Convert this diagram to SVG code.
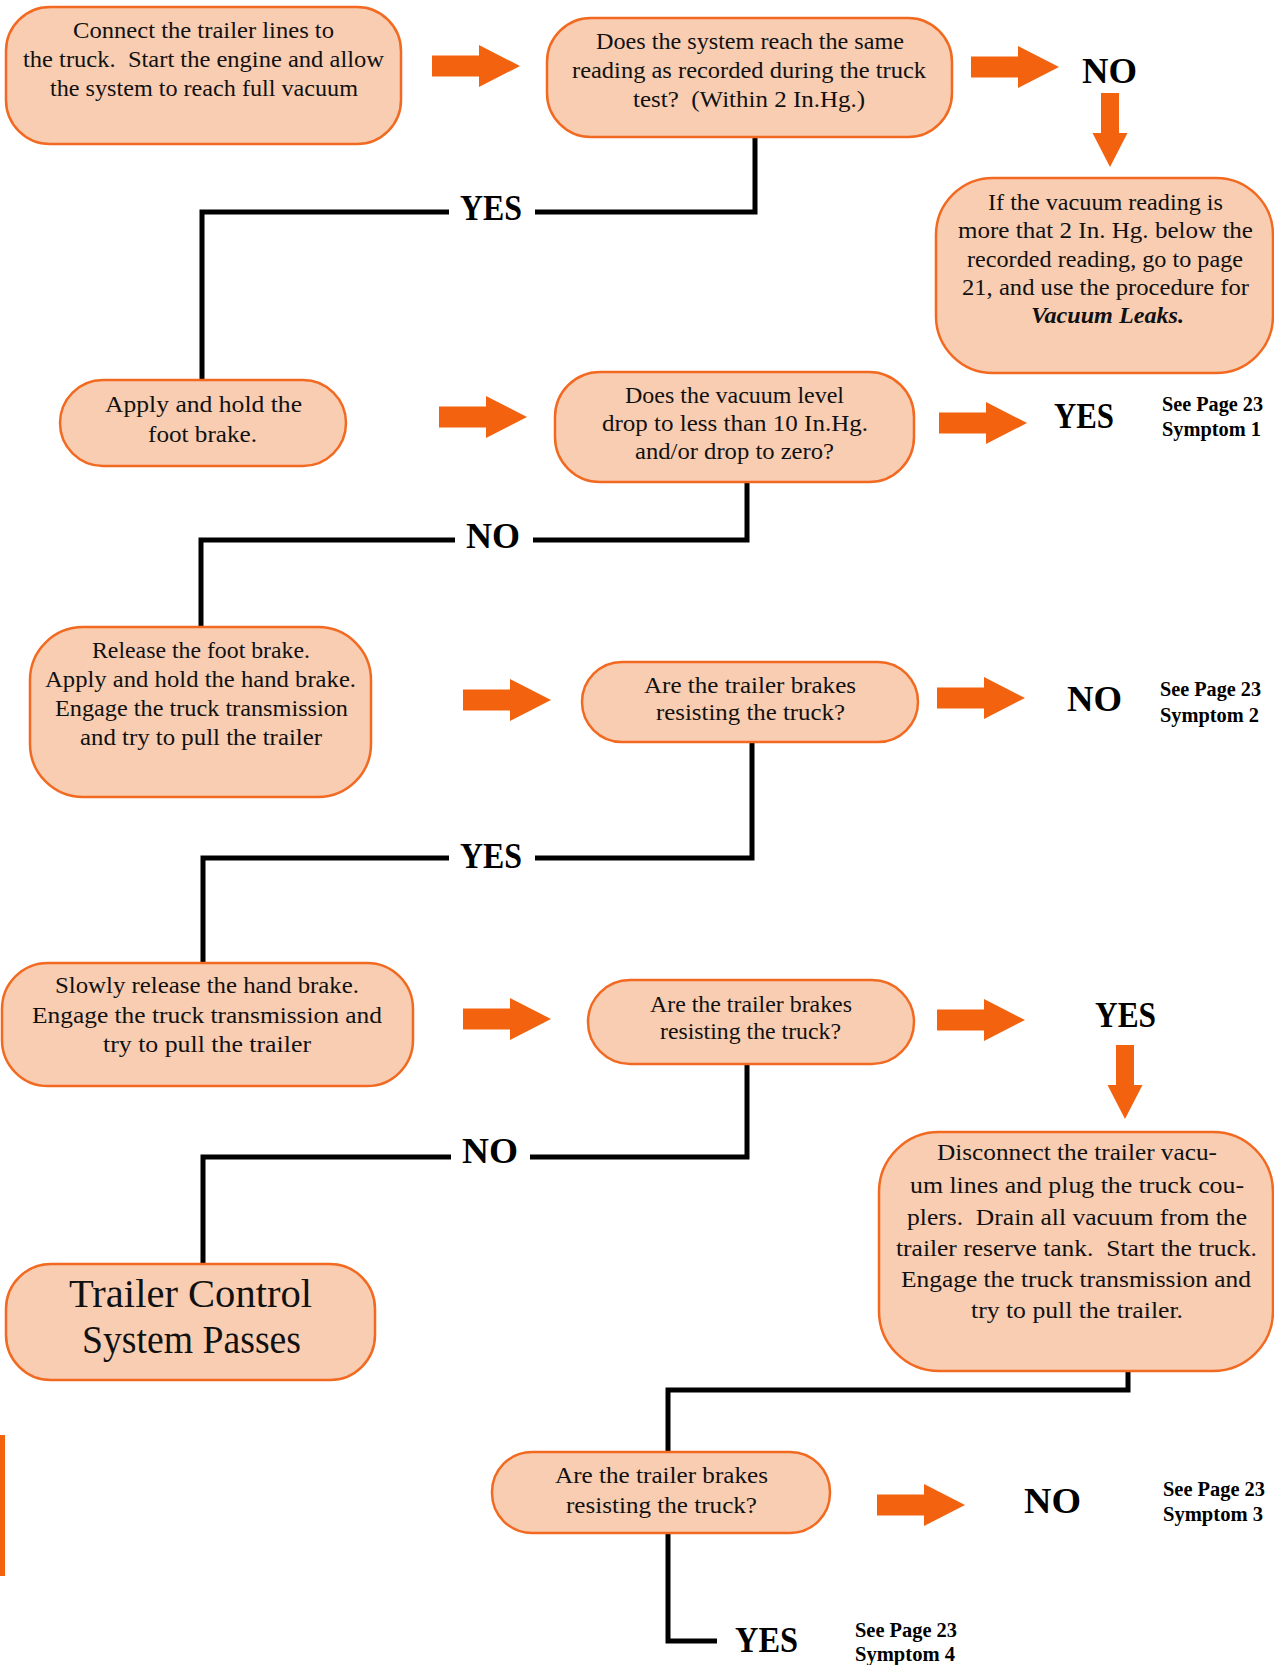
<svg xmlns="http://www.w3.org/2000/svg" xmlns:xlink="http://www.w3.org/1999/xlink" width="1274" height="1665" viewBox="0 0 1274 1665">
<style>
.box{fill:#F9CDB1;stroke:#F26A21;stroke-width:2.5}
.t{font-family:"Liberation Serif",serif;font-size:24px;fill:#111;white-space:pre}
.big{font-family:"Liberation Serif",serif;font-size:41px;fill:#111}
.bi{font-family:"Liberation Serif",serif;font-size:24px;font-weight:bold;font-style:italic;fill:#111}
.lbl{font-family:"Liberation Serif",serif;font-size:35px;font-weight:bold;fill:#000}
.ref{font-family:"Liberation Serif",serif;font-size:20px;font-weight:bold;fill:#000}
.conn{fill:none;stroke:#000;stroke-width:5;stroke-linejoin:miter;stroke-linecap:butt}
.arr{fill:#F2620F}
</style>
<defs>
<path id="ra" d="M0,-10.5 H47 V-21 L88,0 L47,21 V10.5 H0 Z"/>
<path id="da" d="M-9,0 H9 V40 H17.5 L0,74 L-17.5,40 H-9 Z"/>
</defs>
<rect x="0" y="1435" width="5" height="141" fill="#F2620F"/>
<g id="connectors">
<path class="conn" d="M755 137 V212 H535 M449 212 H202 V380"/>
<path class="conn" d="M747 482 V540 H533 M455 540 H201 V627"/>
<path class="conn" d="M752 742 V858 H535 M449 858 H203 V963"/>
<path class="conn" d="M747 1064 V1157 H530 M451 1157 H203 V1264"/>
<path class="conn" d="M1128 1371 V1390 H668 V1452"/>
<path class="conn" d="M668 1533 V1641 H717"/>
<use class="arr" xlink:href="#ra" href="#ra" transform="translate(432,66)"/>
<use class="arr" xlink:href="#ra" href="#ra" transform="translate(971,67)"/>
<use class="arr" xlink:href="#da" href="#da" transform="translate(1110,93)"/>
<use class="arr" xlink:href="#ra" href="#ra" transform="translate(439,417)"/>
<use class="arr" xlink:href="#ra" href="#ra" transform="translate(939,423)"/>
<use class="arr" xlink:href="#ra" href="#ra" transform="translate(463,700)"/>
<use class="arr" xlink:href="#ra" href="#ra" transform="translate(937,698)"/>
<use class="arr" xlink:href="#ra" href="#ra" transform="translate(463,1019)"/>
<use class="arr" xlink:href="#ra" href="#ra" transform="translate(937,1020)"/>
<use class="arr" xlink:href="#da" href="#da" transform="translate(1125,1045)"/>
<use class="arr" xlink:href="#ra" href="#ra" transform="translate(877,1505)"/>
<text class="lbl" x="460" y="220" textLength="62" lengthAdjust="spacingAndGlyphs">YES</text>
<text class="lbl" x="466" y="548" textLength="54" lengthAdjust="spacingAndGlyphs">NO</text>
<text class="lbl" x="460" y="868" textLength="62" lengthAdjust="spacingAndGlyphs">YES</text>
<text class="lbl" x="462" y="1163" textLength="56" lengthAdjust="spacingAndGlyphs">NO</text>
</g>
<g id="n1">
<rect class="box" x="6" y="7" width="395" height="137" rx="44"/>
<text class="t" x="73" y="38" textLength="261" lengthAdjust="spacingAndGlyphs">Connect the trailer lines to</text>
<text class="t" x="23" y="67" textLength="361" lengthAdjust="spacingAndGlyphs">the truck.  Start the engine and allow</text>
<text class="t" x="50" y="96" textLength="308" lengthAdjust="spacingAndGlyphs">the system to reach full vacuum</text>
</g>
<g id="n2">
<rect class="box" x="547" y="18" width="405" height="119" rx="44"/>
<text class="t" x="596" y="49" textLength="308" lengthAdjust="spacingAndGlyphs">Does the system reach the same</text>
<text class="t" x="572" y="78" textLength="354" lengthAdjust="spacingAndGlyphs">reading as recorded during the truck</text>
<text class="t" x="633" y="107" textLength="232" lengthAdjust="spacingAndGlyphs">test?  (Within 2 In.Hg.)</text>
</g>
<g id="no1">
<text class="lbl" x="1082" y="83" textLength="55" lengthAdjust="spacingAndGlyphs">NO</text>
</g>
<g id="n3">
<rect class="box" x="936" y="178" width="337" height="195" rx="57"/>
<text class="t" x="988" y="210" textLength="235" lengthAdjust="spacingAndGlyphs">If the vacuum reading is</text>
<text class="t" x="958" y="238" textLength="295" lengthAdjust="spacingAndGlyphs">more that 2 In. Hg. below the</text>
<text class="t" x="967" y="267" textLength="276" lengthAdjust="spacingAndGlyphs">recorded reading, go to page</text>
<text class="t" x="962" y="295" textLength="287" lengthAdjust="spacingAndGlyphs">21, and use the procedure for</text>
<text class="bi" x="1031" y="323" textLength="153" lengthAdjust="spacingAndGlyphs">Vacuum Leaks.</text>
</g>
<g id="n4">
<rect class="box" x="60" y="380" width="286" height="86" rx="43"/>
<text class="t" x="105" y="412" textLength="197" lengthAdjust="spacingAndGlyphs">Apply and hold the</text>
<text class="t" x="148" y="442" textLength="109" lengthAdjust="spacingAndGlyphs">foot brake.</text>
</g>
<g id="n5">
<rect class="box" x="555" y="372" width="359" height="110" rx="45"/>
<text class="t" x="625" y="403" textLength="219" lengthAdjust="spacingAndGlyphs">Does the vacuum level</text>
<text class="t" x="602" y="431" textLength="266" lengthAdjust="spacingAndGlyphs">drop to less than 10 In.Hg.</text>
<text class="t" x="635" y="459" textLength="199" lengthAdjust="spacingAndGlyphs">and/or drop to zero?</text>
</g>
<g id="r1">
<text class="lbl" x="1054" y="428" textLength="60" lengthAdjust="spacingAndGlyphs">YES</text>
<text class="ref" x="1162" y="411" textLength="101" lengthAdjust="spacingAndGlyphs">See Page 23</text>
<text class="ref" x="1162" y="436" textLength="99" lengthAdjust="spacingAndGlyphs">Symptom 1</text>
</g>
<g id="n6">
<rect class="box" x="30" y="627" width="341" height="170" rx="53"/>
<text class="t" x="92" y="658" textLength="218" lengthAdjust="spacingAndGlyphs">Release the foot brake.</text>
<text class="t" x="45" y="687" textLength="311" lengthAdjust="spacingAndGlyphs">Apply and hold the hand brake.</text>
<text class="t" x="55" y="716" textLength="293" lengthAdjust="spacingAndGlyphs">Engage the truck transmission</text>
<text class="t" x="80" y="745" textLength="242" lengthAdjust="spacingAndGlyphs">and try to pull the trailer</text>
</g>
<g id="n7">
<rect class="box" x="582" y="662" width="336" height="80" rx="40"/>
<text class="t" x="644" y="693" textLength="212" lengthAdjust="spacingAndGlyphs">Are the trailer brakes</text>
<text class="t" x="656" y="720" textLength="189" lengthAdjust="spacingAndGlyphs">resisting the truck?</text>
</g>
<g id="r2">
<text class="lbl" x="1067" y="711" textLength="55" lengthAdjust="spacingAndGlyphs">NO</text>
<text class="ref" x="1160" y="696" textLength="101" lengthAdjust="spacingAndGlyphs">See Page 23</text>
<text class="ref" x="1160" y="722" textLength="99" lengthAdjust="spacingAndGlyphs">Symptom 2</text>
</g>
<g id="n8">
<rect class="box" x="2" y="963" width="411" height="123" rx="46"/>
<text class="t" x="55" y="993" textLength="304" lengthAdjust="spacingAndGlyphs">Slowly release the hand brake.</text>
<text class="t" x="32" y="1023" textLength="350" lengthAdjust="spacingAndGlyphs">Engage the truck transmission and</text>
<text class="t" x="103" y="1052" textLength="208" lengthAdjust="spacingAndGlyphs">try to pull the trailer</text>
</g>
<g id="n9">
<rect class="box" x="588" y="980" width="326" height="84" rx="42"/>
<text class="t" x="650" y="1012" textLength="202" lengthAdjust="spacingAndGlyphs">Are the trailer brakes</text>
<text class="t" x="660" y="1039" textLength="181" lengthAdjust="spacingAndGlyphs">resisting the truck?</text>
</g>
<g id="yes4">
<text class="lbl" x="1095" y="1027" textLength="61" lengthAdjust="spacingAndGlyphs">YES</text>
</g>
<g id="n10">
<rect class="box" x="879" y="1132" width="394" height="239" rx="60"/>
<text class="t" x="937" y="1160" textLength="280" lengthAdjust="spacingAndGlyphs">Disconnect the trailer vacu-</text>
<text class="t" x="910" y="1193" textLength="334" lengthAdjust="spacingAndGlyphs">um lines and plug the truck cou-</text>
<text class="t" x="907" y="1225" textLength="340" lengthAdjust="spacingAndGlyphs">plers.  Drain all vacuum from the</text>
<text class="t" x="896" y="1256" textLength="361" lengthAdjust="spacingAndGlyphs">trailer reserve tank.  Start the truck.</text>
<text class="t" x="901" y="1287" textLength="350" lengthAdjust="spacingAndGlyphs">Engage the truck transmission and</text>
<text class="t" x="971" y="1318" textLength="212" lengthAdjust="spacingAndGlyphs">try to pull the trailer.</text>
</g>
<g id="n11">
<rect class="box" x="6" y="1264" width="369" height="116" rx="45"/>
<text class="big" x="69" y="1307" textLength="243" lengthAdjust="spacingAndGlyphs">Trailer Control</text>
<text class="big" x="82" y="1353" textLength="219" lengthAdjust="spacingAndGlyphs">System Passes</text>
</g>
<g id="n12">
<rect class="box" x="492" y="1452" width="338" height="81" rx="40"/>
<text class="t" x="555" y="1483" textLength="213" lengthAdjust="spacingAndGlyphs">Are the trailer brakes</text>
<text class="t" x="566" y="1513" textLength="191" lengthAdjust="spacingAndGlyphs">resisting the truck?</text>
</g>
<g id="r3">
<text class="lbl" x="1024" y="1513" textLength="57" lengthAdjust="spacingAndGlyphs">NO</text>
<text class="ref" x="1163" y="1496" textLength="102" lengthAdjust="spacingAndGlyphs">See Page 23</text>
<text class="ref" x="1163" y="1521" textLength="100" lengthAdjust="spacingAndGlyphs">Symptom 3</text>
</g>
<g id="r4">
<text class="lbl" x="735" y="1652" textLength="63" lengthAdjust="spacingAndGlyphs">YES</text>
<text class="ref" x="855" y="1637" textLength="102" lengthAdjust="spacingAndGlyphs">See Page 23</text>
<text class="ref" x="855" y="1661" textLength="100" lengthAdjust="spacingAndGlyphs">Symptom 4</text>
</g>
</svg>
